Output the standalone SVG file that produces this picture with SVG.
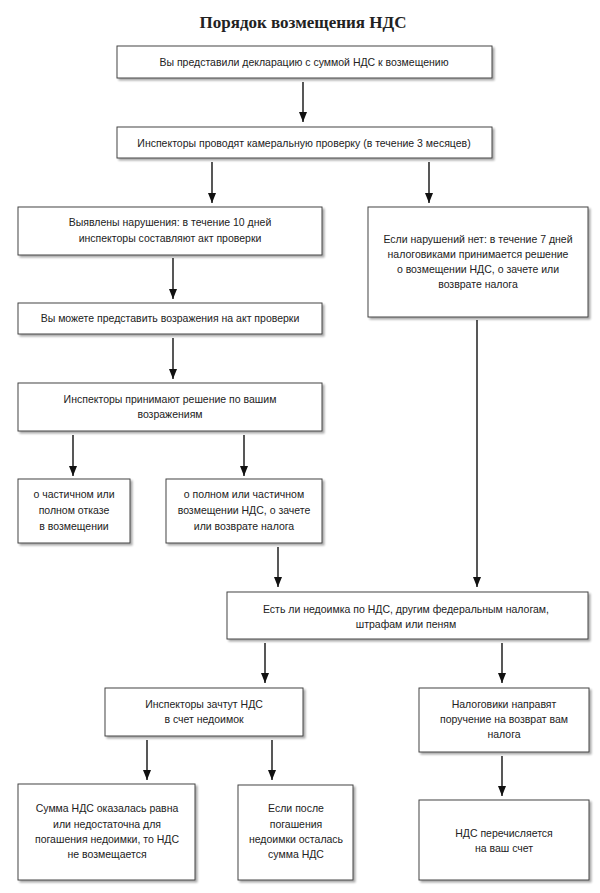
<svg xmlns="http://www.w3.org/2000/svg" width="600" height="893" viewBox="0 0 600 893">
<defs>
<marker id="ah" markerUnits="userSpaceOnUse" markerWidth="10" markerHeight="10" refX="10" refY="4" orient="auto">
<path d="M0,0 L10,4 L0,8 z" fill="#111"/>
</marker>
<filter id="sh" x="-5%" y="-5%" width="115%" height="125%">
<feGaussianBlur in="SourceAlpha" stdDeviation="1.2"/>
<feOffset dx="2" dy="2" result="b"/>
<feComponentTransfer><feFuncA type="linear" slope="0.35"/></feComponentTransfer>
<feMerge><feMergeNode/><feMergeNode in="SourceGraphic"/></feMerge>
</filter>
</defs>
<style>
.box{fill:#fff;stroke:#444;stroke-width:1;filter:url(#sh)}
.t{font-family:"Liberation Sans",Arial,sans-serif;font-size:10.5px;fill:#222;text-anchor:middle}
.title{font-family:"Liberation Serif","Times New Roman",serif;font-size:17px;font-weight:bold;fill:#222;text-anchor:middle}
.c line{stroke:#111;stroke-width:1.4;marker-end:url(#ah)}
</style>
<rect width="600" height="893" fill="#fff"/>
<text class="title" x="303" y="28">Порядок возмещения НДС</text>

<g id="n1"><rect class="box" x="117" y="46" width="375" height="32"/>
<text class="t" x="304" y="66">Вы представили декларацию с суммой НДС к возмещению</text></g>

<g id="n2"><rect class="box" x="117" y="127" width="375" height="31"/>
<text class="t" x="304" y="147">Инспекторы проводят камеральную проверку (в течение 3 месяцев)</text></g>

<g id="n3"><rect class="box" x="18" y="207" width="304" height="48"/>
<text class="t" x="170" y="226">Выявлены нарушения: в течение 10 дней</text>
<text class="t" x="170" y="242">инспекторы составляют акт проверки</text></g>

<g id="n4"><rect class="box" x="368" y="207" width="220" height="110"/>
<text class="t" x="478" y="243">Если нарушений нет: в течение 7 дней</text>
<text class="t" x="478" y="258">налоговиками принимается решение</text>
<text class="t" x="478" y="273">о возмещении НДС, о зачете или</text>
<text class="t" x="478" y="288">возврате налога</text></g>

<g id="n5"><rect class="box" x="18" y="303" width="304" height="31"/>
<text class="t" x="170" y="322">Вы можете представить возражения на акт проверки</text></g>

<g id="n6"><rect class="box" x="18" y="383" width="304" height="48"/>
<text class="t" x="170" y="403">Инспекторы принимают решение по вашим</text>
<text class="t" x="170" y="418">возражениям</text></g>

<g id="n7"><rect class="box" x="18" y="479" width="112" height="64"/>
<text class="t" x="74" y="498">о частичном или</text>
<text class="t" x="74" y="514">полном отказе</text>
<text class="t" x="74" y="530">в возмещении</text></g>

<g id="n8"><rect class="box" x="166" y="479" width="156" height="64"/>
<text class="t" x="244" y="498">о полном или частичном</text>
<text class="t" x="244" y="514">возмещении НДС, о зачете</text>
<text class="t" x="244" y="530">или возврате налога</text></g>

<g id="n9"><rect class="box" x="227" y="592" width="361" height="47"/>
<text class="t" x="406" y="613">Есть ли недоимка по НДС, другим федеральным налогам,</text>
<text class="t" x="406" y="628">штрафам или пеням</text></g>

<g id="n10"><rect class="box" x="105" y="688" width="198" height="48"/>
<text class="t" x="204" y="708">Инспекторы зачтут НДС</text>
<text class="t" x="204" y="723">в счет недоимок</text></g>

<g id="n11"><rect class="box" x="419" y="688" width="170" height="64"/>
<text class="t" x="504" y="708">Налоговики направят</text>
<text class="t" x="504" y="723">поручение на возврат вам</text>
<text class="t" x="504" y="738">налога</text></g>

<g id="n12"><rect class="box" x="18" y="784" width="177" height="96"/>
<text class="t" x="107" y="812">Сумма НДС оказалась равна</text>
<text class="t" x="107" y="828">или недостаточна для</text>
<text class="t" x="107" y="843">погашения недоимки, то НДС</text>
<text class="t" x="107" y="858">не возмещается</text></g>

<g id="n13"><rect class="box" x="238" y="785" width="115" height="95"/>
<text class="t" x="296" y="812">Если после</text>
<text class="t" x="296" y="828">погашения</text>
<text class="t" x="296" y="843">недоимки осталась</text>
<text class="t" x="296" y="858">сумма НДС</text></g>

<g id="n14"><rect class="box" x="419" y="800" width="170" height="80"/>
<text class="t" x="504" y="837">НДС перечисляется</text>
<text class="t" x="504" y="852">на ваш счет</text></g>

<g id="connectors" class="c">
<line x1="303" y1="82" x2="303" y2="122"/>
<line x1="212" y1="162" x2="212" y2="203"/>
<line x1="429" y1="162" x2="429" y2="203"/>
<line x1="173" y1="258" x2="173" y2="299"/>
<line x1="173" y1="338" x2="173" y2="379"/>
<line x1="73" y1="435" x2="73" y2="476"/>
<line x1="244" y1="435" x2="244" y2="476"/>
<line x1="278" y1="547" x2="278" y2="587"/>
<line x1="477" y1="320" x2="477" y2="587"/>
<line x1="265" y1="643" x2="265" y2="683"/>
<line x1="502" y1="643" x2="502" y2="683"/>
<line x1="147" y1="740" x2="147" y2="780"/>
<line x1="272" y1="740" x2="272" y2="780"/>
<line x1="502" y1="756" x2="502" y2="796"/>
</g>
</svg>
